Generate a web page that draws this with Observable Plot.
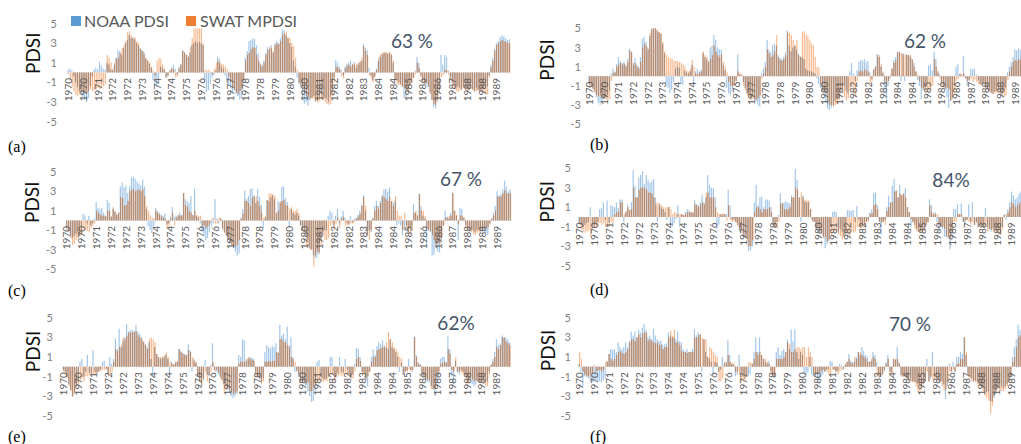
<!DOCTYPE html>
<html><head><meta charset="utf-8">
<script src="https://cdn.jsdelivr.net/npm/d3@7"></script>
<script src="https://cdn.jsdelivr.net/npm/@observablehq/plot@0.6"></script>
<style>
html,body{margin:0;padding:0;background:#fff;}
#page{position:relative;width:1021px;height:444px;overflow:hidden;font-family:Lato,"Open Sans",sans-serif;}
#page svg{position:absolute;left:0;top:0;max-width:none;background:transparent;}
.ov{position:absolute;white-space:nowrap;line-height:1;}
.pct{font-family:Lato,sans-serif;font-size:19px;color:#44546a;transform:translate(-50%,-50%);}
.pl{font-family:"Liberation Serif","DejaVu Serif",serif;font-size:16px;color:#000;transform:translateY(-50%);}
.lg{font-family:Lato,sans-serif;font-size:16px;color:#595959;transform:translateY(-50%);}
.sw{position:absolute;width:10px;height:10px;}
</style></head><body><div id="page"></div>
<script>
// ---- data ----
const startYear = 1970;
const months = d3.range(240);
const tickValues = [5, 3, 1, -1, -3, -5];
const yearLabelMonths = d3.range(0, 240, 8);
const seriesNames = ["NOAA PDSI", "SWAT MPDSI"];
const panelTags = ["(a)", "(b)", "(c)", "(d)", "(e)", "(f)"];
const percentLabels = ["63 %", "62 %", "67 %", "84%", "62%", "70 %"];

const aNOAA = [
0.3,0.4,0.2,-0.4,-1.0,-1.5,-1.9,-2.2,-2.5,-2.8,-3.0,-2.6,
-1.4,-0.4,0.3,0.5,0.3,1.1,0.7,0.4,0.3,1.0,0.8,0.3,
0.2,0.8,1.5,2.3,2.2,1.8,2.5,3.0,3.3,3.8,3.5,3.6,
3.4,3.0,2.8,2.5,2.3,2.2,1.5,1.2,0.9,0.5,-0.8,-1.3,
-1.5,-0.6,0.6,0.5,0.3,-0.5,-0.4,0.2,0.5,0.8,0.4,-0.2,
0.6,0.9,2.3,2.1,1.8,1.7,2.0,2.8,3.0,3.2,3.0,3.1,
3.0,2.8,-1.0,-2.0,-1.8,-1.2,-0.5,-0.3,0.2,1.6,1.4,0.6,
0.4,-0.3,-0.8,-1.2,-1.6,-2.0,-1.8,-2.2,-2.4,-2.8,-2.6,-1.0,
1.5,2.2,3.2,3.3,3.5,3.4,2.8,2.0,1.0,0.8,1.2,2.0,
2.6,2.4,2.8,2.0,3.0,3.2,3.0,3.5,4.4,4.3,3.8,3.5,
3.0,2.6,1.2,0.6,-0.5,-1.2,-1.5,-2.6,-3.2,-3.0,-3.4,-2.8,
-2.6,-2.4,-3.0,-2.8,-2.5,-2.2,-2.4,-2.6,-2.7,-3.0,-2.5,-2.0,
-0.5,1.3,1.0,0.6,0.3,-0.3,0.6,0.9,1.0,1.2,0.8,1.1,
0.5,0.8,1.0,1.2,2.9,2.5,2.3,0.5,-0.3,-0.8,-0.5,0.4,
1.2,1.6,1.8,2.0,2.0,1.9,2.0,1.8,1.0,-0.6,-0.8,-1.0,
-1.2,-1.5,-2.6,-2.5,-1.8,-1.3,-0.8,-0.5,0.2,1.6,1.0,-0.3,
-0.8,-1.0,-1.2,-1.5,-2.0,-2.8,-3.5,-3.7,-3.0,-2.0,1.8,0.8,
1.8,1.6,0.2,-0.5,-1.0,-1.2,-1.5,-1.4,-1.6,-1.8,-1.5,-1.6,
-1.6,-1.8,-1.5,-1.7,-1.9,-1.6,-1.8,-2.0,-1.7,-1.6,-1.5,-1.4,
-0.3,0.8,1.5,2.4,3.0,3.2,3.6,3.8,3.7,3.5,3.3,3.4];
const aSWAT = [
-0.2,-0.8,-1.4,-2.0,-2.3,-2.4,-2.2,-2.0,-1.9,-2.0,-2.1,-1.9,
-1.7,-1.9,-1.8,-1.7,-1.6,-1.7,-1.6,-1.4,-1.2,1.8,1.5,1.0,
0.4,1.0,1.4,1.5,2.0,2.5,2.8,3.2,4.1,4.2,3.8,3.5,
3.6,3.2,3.0,2.4,2.2,1.9,1.4,1.2,1.0,0.6,0.2,-0.3,
1.2,1.5,1.4,0.8,0.4,-0.5,-0.3,0.2,0.4,0.3,-0.5,-0.4,
0.4,0.8,2.2,2.0,1.8,1.6,2.6,3.5,4.5,4.5,4.5,4.5,
4.5,3.0,0.3,0.2,0.3,0.1,-0.2,0.4,1.0,1.2,1.0,0.9,
0.8,0.6,0.3,-0.4,-1.0,-1.5,-1.8,-2.0,-2.2,-1.9,-1.5,-0.8,
1.2,1.8,2.0,2.4,2.6,2.5,1.8,1.2,0.8,0.6,1.0,1.8,
2.3,2.6,2.5,2.2,2.8,3.0,2.9,3.2,3.8,4.0,4.2,3.6,
3.5,3.0,2.7,1.5,0.3,-1.0,-1.2,-1.5,-2.0,-2.4,-2.5,-2.7,
-2.6,-2.8,-2.9,-3.1,-2.9,-2.7,-2.8,-3.0,-3.2,-3.3,-3.2,-2.4,
-1.0,0.6,0.5,0.3,-0.4,-0.6,0.4,0.7,0.8,0.6,0.9,0.8,
0.9,1.0,1.2,1.5,2.7,2.2,1.8,-0.3,-0.6,-1.0,-0.4,0.3,
1.5,1.9,2.0,2.1,2.1,2.0,2.1,1.9,1.2,-0.8,-1.2,-1.3,
-1.3,-1.4,-1.6,-1.8,-2.0,-1.4,-1.0,-0.6,-0.2,1.0,0.5,-0.5,
-1.0,-1.2,-1.1,-1.4,-2.2,-2.8,-3.2,-3.3,-2.8,-1.8,-0.5,-0.3,
0.3,0.2,-0.3,-0.8,-1.3,-1.6,-1.9,-2.0,-1.8,-1.7,-1.6,-1.8,
-1.9,-1.8,-1.7,-1.8,-2.0,-1.9,-1.8,-1.9,-2.0,-2.1,-2.2,-2.3,
-0.5,0.5,1.2,2.2,2.8,3.0,3.2,3.3,3.2,3.1,3.0,3.0];

const bNOAA = [
-0.8,-1.0,-1.3,-1.6,-2.2,-2.8,-3.0,-2.7,-2.4,-2.2,-2.0,-1.5,
0.3,0.8,0.5,1.3,2.0,1.6,1.4,1.5,1.2,1.8,2.9,2.6,
1.4,1.9,1.2,1.0,2.0,3.9,4.1,3.6,3.0,4.2,4.9,5.0,
5.0,4.8,4.6,4.4,3.4,2.4,-0.8,-1.2,-1.8,-1.4,-0.6,0.8,
1.0,0.9,-0.8,-0.9,0.6,0.4,0.3,0.5,1.2,-0.8,0.5,0.8,
0.5,0.7,2.4,2.0,1.8,1.5,3.0,3.2,4.3,3.8,3.0,2.8,
2.8,1.2,0.6,-1.2,-1.8,-2.0,-1.5,-1.0,-0.5,2.3,0.2,0.1,
-0.6,-1.2,-1.8,-2.0,-2.3,-2.1,-2.4,-2.6,-3.0,-3.2,0.3,0.8,
1.5,3.8,2.8,2.5,3.2,3.4,3.2,2.2,1.9,1.8,2.0,2.5,
4.8,3.2,2.6,3.0,3.2,2.8,2.4,2.1,2.0,1.8,0.8,0.6,
0.6,0.5,0.4,0.3,-0.2,-0.8,-1.2,-1.6,-1.8,-2.8,-3.4,-3.5,
-3.3,-3.0,-2.6,-2.4,-2.2,-1.6,-1.3,-1.0,-1.5,-1.8,0.5,1.4,
0.3,-0.5,0.6,1.5,1.7,1.6,1.8,1.5,1.6,0.4,-0.3,0.7,
1.0,2.3,2.0,1.0,0.3,-1.2,-2.4,-1.0,-0.3,0.8,1.7,2.0,
2.5,2.6,-0.5,2.4,-0.5,2.3,2.2,2.0,1.8,1.4,0.5,-0.4,
-1.0,-2.4,-1.5,-1.2,-0.8,1.1,1.2,0.6,2.5,1.8,0.4,0.2,
-0.6,-1.0,-1.3,-2.2,-3.3,-2.6,-2.4,-1.0,1.0,1.3,0.2,0.1,
2.1,-0.2,-1.0,-0.4,0.8,0.7,0.8,0.2,-0.4,-0.8,-0.9,-0.7,
-1.2,-1.4,-1.5,-1.7,-1.8,-1.6,-1.5,-1.4,-1.6,-1.8,-1.5,-1.2,
0.4,1.0,1.5,2.0,2.8,2.7,2.9,2.8,2.9,2.8,2.9,3.0];
const bSWAT = [
-1.2,-1.0,-1.4,-1.8,-2.0,-2.1,-2.0,-2.2,-2.3,-2.5,-2.5,-2.4,
-0.5,0.3,0.4,1.0,1.2,1.4,1.2,1.3,1.0,1.5,2.7,2.5,
1.2,1.4,1.0,0.8,1.5,3.0,3.4,3.2,2.8,4.5,5.0,5.0,
5.0,4.8,4.6,4.5,3.6,2.6,2.2,2.0,1.9,1.8,1.6,1.6,
1.6,1.5,1.4,1.2,1.0,0.6,0.5,0.8,1.7,1.0,0.3,0.2,
0.4,0.5,2.6,2.2,2.0,1.6,1.8,2.2,3.2,2.6,2.2,2.0,
2.3,1.5,1.0,0.4,-0.6,-1.0,-1.1,-0.9,-0.5,0.5,0.3,0.2,
-1.0,-1.5,-2.0,-2.2,-2.5,-2.3,-2.4,-2.5,-2.3,-2.0,-0.3,0.3,
1.0,2.8,2.4,2.0,2.2,2.6,4.3,2.0,1.7,1.6,1.8,2.2,
4.6,4.5,4.3,3.8,3.2,3.8,2.2,2.0,4.6,4.7,4.4,4.2,
3.8,3.4,3.2,2.0,1.0,0.9,-0.8,-1.5,-1.6,-1.8,-2.6,-3.0,
-3.0,-3.2,-3.0,-2.8,-2.5,-1.5,-1.8,-2.2,-2.5,-2.3,-1.5,-1.0,
-1.8,-2.1,-0.5,0.5,0.6,0.5,0.7,0.6,0.5,-0.8,-0.5,0.7,
1.0,2.2,2.2,1.3,0.5,-0.5,-0.8,-0.5,0.2,0.8,1.4,1.6,
2.5,2.5,2.4,2.3,2.3,2.2,2.2,2.2,1.7,1.0,0.5,0.2,
-0.5,-1.2,-1.3,-1.5,-1.6,-1.5,-1.4,-1.0,1.8,1.0,0.6,-0.3,
-1.0,-1.2,-1.3,-1.2,-1.4,-2.5,-2.2,-1.5,-0.5,-0.3,0.3,0.2,
0.3,-0.3,-0.5,-0.5,-0.3,-0.6,-0.4,-0.6,-0.8,-0.9,-1.0,-0.8,
-1.3,-1.5,-1.6,-1.8,-1.9,-1.8,-1.7,-1.6,-1.9,-2.0,-2.1,-2.0,
-0.4,0.5,1.0,1.5,1.7,1.6,1.8,1.7,1.9,2.0,2.1,2.2];

const cNOAA = [
-0.8,-1.0,-1.5,-1.8,-1.6,-1.4,-1.2,-1.6,-1.5,0.7,0.5,-0.3,
0.5,-0.5,-0.3,0.2,1.9,1.3,1.2,1.3,0.8,0.5,2.1,1.8,
0.4,1.2,0.9,0.6,0.8,3.5,3.9,3.4,3.6,2.8,3.5,4.4,
4.5,4.3,4.0,3.8,3.6,4.2,3.5,1.2,-0.6,-1.0,-1.3,-0.8,
1.3,1.0,0.8,0.6,0.5,0.7,-0.4,-0.3,0.4,1.4,0.4,0.5,
0.5,0.8,0.6,2.8,2.2,2.0,1.8,2.5,0.6,3.3,0.5,0.3,
-0.3,-1.0,-1.5,-2.0,-1.8,-1.2,-0.6,-0.3,2.2,0.2,-0.3,0.2,
-0.8,-1.2,-1.5,-2.0,-2.4,-2.6,-2.8,-3.2,-3.6,-3.4,0.3,1.2,
3.1,2.2,2.5,3.2,3.3,2.6,1.8,3.2,2.4,1.6,-0.8,0.3,
2.1,2.0,2.4,2.6,2.2,0.8,2.0,1.8,3.5,3.5,2.3,1.9,
-0.8,1.2,0.8,0.6,0.8,0.5,-0.5,-1.0,-1.1,-1.5,-2.0,-2.8,
-3.0,-3.6,-3.9,-3.8,-3.5,-2.0,-1.2,-1.0,-1.0,0.5,1.0,0.8,
-0.5,0.5,1.2,-0.3,0.4,1.0,0.3,-0.2,-0.4,0.5,-0.2,0.2,
0.3,0.6,1.0,1.6,2.6,1.0,-1.5,-1.0,-1.2,0.3,1.5,2.0,
1.5,2.0,2.6,3.2,3.3,3.0,3.4,2.0,1.8,2.0,-0.5,-0.3,
-0.5,-1.5,-1.0,-0.5,-1.2,-0.8,-0.6,1.7,0.8,0.5,2.8,1.5,
0.5,0.2,-2.5,-1.0,-1.2,-3.6,-3.5,-2.5,-3.2,-3.3,-2.0,-0.5,
1.0,0.4,0.2,0.8,2.9,1.0,0.5,-2.0,1.3,1.2,0.3,-0.5,
-0.8,-1.0,-0.9,-1.0,-1.2,-1.0,-0.9,-1.1,-1.2,-1.0,-1.3,-1.5,
-0.3,0.2,0.8,1.5,3.0,2.6,2.7,3.2,4.1,3.5,3.0,3.2];
const cSWAT = [
-1.0,-1.2,-1.8,-2.5,-2.4,-2.0,-1.8,-1.6,-1.4,-0.8,-1.0,-1.1,
-1.2,-0.8,-0.5,-0.3,1.0,0.8,0.6,0.5,0.5,0.4,1.0,1.0,
0.4,1.4,1.0,0.6,0.8,2.4,2.3,1.5,1.6,2.0,3.0,3.2,
3.2,3.0,3.1,3.2,3.0,3.2,2.5,1.5,1.0,0.5,0.3,0.2,
1.0,0.8,0.6,0.4,0.3,0.2,-0.8,-0.8,0.2,0.8,-0.5,0.3,
0.6,0.5,0.5,2.8,1.6,1.4,1.0,0.8,0.5,1.0,0.5,0.5,
0.5,-0.5,-0.5,-0.8,-0.6,-0.3,0.2,0.3,-0.3,-0.3,0.3,0.2,
-1.0,-1.3,-1.6,-2.0,-2.3,-2.5,-2.6,-2.7,-2.5,-2.0,0.2,0.7,
2.0,2.0,1.8,1.5,2.3,2.5,2.5,2.0,1.5,0.8,0.3,0.5,
2.1,2.8,2.8,2.7,2.5,0.8,1.0,2.0,2.0,2.1,1.6,1.5,
1.2,1.4,1.0,1.0,1.2,0.8,-0.5,-1.0,-1.2,-2.6,-2.7,-3.0,
-3.0,-4.7,-3.6,-3.2,-3.3,-2.5,-1.5,-2.0,-2.0,-1.8,-0.5,-0.3,
-1.0,-0.4,0.3,-0.8,0.2,0.4,-0.5,-0.5,-0.4,-0.3,-0.3,-0.2,
0.2,0.4,0.7,1.5,2.4,1.5,-1.6,-2.0,-1.0,0.2,1.0,1.5,
1.2,1.8,2.5,2.4,2.2,2.0,2.4,2.0,1.5,2.5,1.0,0.5,
0.5,-1.0,0.8,-0.8,-1.3,-1.5,-1.0,0.8,1.0,0.6,2.7,1.0,
1.0,0.5,-0.8,-1.0,-1.1,-1.5,-2.0,-2.5,-2.2,-2.4,-1.8,-0.5,
0.3,0.3,0.5,0.5,2.8,1.0,0.6,-0.4,0.5,0.5,0.3,-0.8,
-1.0,-1.1,-1.2,-1.4,-1.5,-1.3,-1.2,-1.1,-1.0,-0.9,-0.8,-0.7,
-0.3,0.2,0.5,1.0,2.5,2.4,2.5,2.8,3.1,2.8,2.8,2.8];

const dNOAA = [
-0.6,-0.8,-1.0,-0.8,-0.6,-0.5,1.0,-0.9,-1.0,-0.8,-0.5,0.8,
0.9,1.5,-0.3,1.7,-0.6,1.2,1.1,1.0,1.5,0.9,1.8,1.8,
-0.5,0.5,1.3,0.7,1.5,4.8,3.2,2.0,4.0,4.3,4.7,3.4,
4.3,3.8,3.5,3.7,3.9,2.0,-0.5,1.3,1.0,0.8,0.5,-0.3,
1.0,-0.8,-1.0,-0.6,-0.2,1.2,-1.0,0.3,0.2,0.5,0.8,0.7,
0.5,0.4,1.7,1.3,1.2,1.5,2.3,1.5,2.0,4.3,3.3,3.0,
3.0,2.0,-1.2,-0.8,0.3,0.2,0.3,0.3,2.8,1.2,-0.3,-0.2,
-0.5,-0.8,-1.5,-1.2,-1.8,-2.0,-2.2,-3.5,-3.4,-3.0,1.5,3.3,
1.2,2.0,2.1,1.0,1.8,1.8,1.7,1.0,-0.8,-1.0,-0.5,0.2,
2.4,1.4,1.5,1.6,1.5,1.4,2.2,2.0,4.9,3.8,2.0,-0.5,
2.2,1.6,1.5,1.5,0.8,-0.3,-0.5,-1.2,-1.5,-1.6,-1.4,-2.0,
-3.2,-2.8,-2.5,-1.0,0.5,0.6,0.5,-1.5,-1.2,-1.5,-2.0,-1.8,
0.7,0.7,0.6,0.7,-0.5,1.1,-0.3,-1.0,-1.0,-0.8,-0.5,-0.3,
0.5,0.8,2.4,2.5,1.2,-0.5,-1.8,-0.5,-0.3,1.0,2.2,1.5,
3.2,3.9,2.7,2.0,3.3,2.2,2.4,3.0,1.0,0.5,-1.0,-0.5,
-0.8,-1.2,-1.5,-1.4,-1.5,-1.3,-0.8,-0.5,1.8,1.2,0.3,0.5,
-0.5,-1.5,-1.0,-1.2,-2.0,-2.1,-2.2,-3.3,-2.0,0.8,0.8,1.3,
0.3,1.4,-0.5,-0.8,-0.3,1.3,-0.5,1.5,-0.8,-0.5,-1.0,-0.8,
-0.9,-1.0,0.9,-1.0,-1.2,-1.5,-1.2,-1.3,-1.5,-1.2,-1.8,-1.0,
0.3,-0.3,0.8,1.5,2.6,2.2,1.8,2.0,2.4,2.6,2.8,3.0];
const dSWAT = [
-0.8,-1.3,-1.5,-1.6,-1.5,-1.4,-2.0,-1.2,-1.0,-1.1,-0.9,-0.6,
-0.8,-0.6,-1.0,-0.8,-1.0,-0.5,-0.6,0.3,0.5,0.6,1.5,1.5,
0.3,0.6,1.0,0.7,0.8,3.0,2.0,2.0,2.8,3.0,3.0,3.0,
2.8,2.5,2.5,2.4,2.0,1.3,1.5,1.4,1.2,1.0,1.0,1.0,
1.0,0.8,0.3,0.5,0.4,0.3,0.3,0.3,0.2,0.3,0.5,0.5,
0.5,0.5,1.3,1.2,1.0,1.3,1.5,1.3,2.5,2.5,2.0,2.0,
2.0,1.0,0.5,0.3,0.3,0.4,0.3,-0.4,1.2,-0.3,-0.5,-0.4,
-0.6,-1.0,-1.3,-1.6,-2.0,-2.1,-2.5,-3.0,-3.0,-2.4,0.5,1.0,
1.0,0.8,0.5,0.8,0.8,0.8,1.0,0.5,-0.8,-1.0,-1.2,-0.5,
1.4,1.4,0.8,0.8,0.8,1.0,2.0,2.0,3.0,2.8,2.0,2.5,
2.0,1.8,1.7,1.7,0.8,-0.5,-0.5,-1.2,-1.0,-1.5,-1.8,-2.2,
-2.0,-2.5,-2.3,-1.8,-1.5,-1.5,-1.5,-1.8,-2.0,-2.3,-2.0,-1.6,
-1.8,-2.0,-1.5,-1.6,-1.5,-1.0,-1.0,-1.2,-1.0,-1.0,-0.5,-0.5,
0.3,0.4,1.2,1.3,0.8,-0.5,-0.6,-0.5,-0.8,0.6,1.0,1.5,
1.5,2.6,2.7,2.0,2.4,2.2,2.4,2.0,1.0,0.5,-0.2,-0.5,
-1.2,-1.5,-1.5,-1.6,-1.5,-1.4,-0.8,-0.6,1.2,0.5,0.4,0.3,
0.3,-0.8,-1.0,-1.0,-1.2,-2.0,-2.0,-2.2,-1.5,-0.5,-0.5,0.3,
0.3,0.3,-0.5,-0.4,-0.3,-0.5,-0.8,-0.5,-0.8,-0.6,-1.0,-0.9,
-1.0,-1.1,-1.0,-1.5,-1.2,-1.3,-1.5,-1.4,-1.6,-1.8,-1.8,-1.2,
0.2,0.3,0.5,1.0,1.5,1.3,1.0,1.2,1.4,1.5,1.6,1.7];

const eNOAA = [
-0.3,-0.5,-1.0,-1.8,-2.4,-3.0,-2.8,-2.0,-1.6,0.5,0.8,-1.0,
-0.5,1.2,-0.6,-0.7,1.7,-0.5,-0.6,-0.5,-0.3,0.5,0.6,-0.2,
-0.8,1.0,0.3,0.8,2.9,1.8,3.9,2.0,2.6,3.0,4.4,3.6,
3.7,3.8,3.6,4.3,3.6,3.4,3.0,2.6,2.3,2.0,2.5,0.8,
-1.0,2.0,1.3,1.0,0.8,0.9,1.0,1.2,0.8,-0.8,0.5,0.3,
0.4,0.5,1.8,1.6,1.4,1.3,1.2,2.3,1.7,-0.5,0.8,0.4,
-1.0,-1.5,-2.0,-1.4,0.7,-0.8,-1.0,0.2,2.4,-0.3,-0.5,-0.8,
-1.0,-1.3,-1.8,-2.0,-2.3,-2.6,-3.0,-3.2,-3.0,-2.8,1.2,1.0,
2.8,2.7,0.6,0.8,1.0,0.9,0.8,-0.6,-1.0,-1.2,-1.5,-1.2,
1.5,2.2,2.0,1.9,2.1,2.0,2.4,1.5,4.3,3.2,3.4,2.8,
4.1,2.2,3.0,1.0,-0.5,-0.5,-1.0,-1.5,-1.6,-1.5,-2.0,-2.5,
-3.0,-3.6,-3.5,-2.5,0.5,0.7,-1.0,-1.2,-1.3,-1.2,-1.0,1.0,
1.0,-0.8,-0.6,-0.7,1.0,-0.5,-0.6,0.8,-0.3,-0.8,-1.0,-0.8,
0.3,1.9,1.8,1.0,-0.5,-0.6,-1.2,-2.0,-0.5,1.0,1.8,1.2,
2.1,2.5,2.3,2.7,2.2,2.0,1.8,2.8,2.0,1.8,1.5,1.0,
-0.5,0.4,-0.8,-0.6,-0.4,0.8,-0.3,-0.5,3.1,1.2,0.5,0.3,
-1.0,-1.0,-1.3,-1.5,-1.6,-2.0,-2.3,-3.0,-2.0,-1.0,0.8,1.0,
1.0,0.5,3.1,1.8,-1.0,-1.8,0.6,-0.5,-0.8,-0.3,-0.5,-0.8,
-1.2,-1.5,-1.4,-1.8,-2.0,-1.8,-1.5,-1.6,-1.5,-1.4,-1.6,-1.5,
-0.5,0.2,0.8,1.5,2.8,2.2,2.4,3.2,3.0,3.0,2.8,2.5];
const eSWAT = [
-0.5,-0.8,-1.2,-2.0,-2.5,-3.1,-2.6,-2.0,-1.8,-1.4,-1.2,-1.5,
-1.0,-1.0,-0.8,-0.8,-0.8,-0.8,-0.6,-0.5,-0.4,-0.3,-0.3,-0.3,
-1.0,-0.8,-0.5,0.5,1.8,1.6,2.0,2.2,3.0,2.8,3.2,3.5,
3.5,3.5,3.6,3.6,3.2,3.0,2.8,2.5,2.2,1.8,2.8,3.0,
2.8,2.5,1.3,1.0,1.0,1.0,1.2,1.5,1.0,0.5,0.3,0.2,
0.5,0.6,1.8,1.5,1.3,1.2,1.2,1.7,1.5,1.0,0.6,0.5,
-1.0,-1.6,-2.0,-1.2,-0.5,-1.5,-0.8,-0.5,0.5,-0.5,-0.3,-0.6,
-1.2,-1.5,-2.5,-2.4,-2.2,-2.4,-2.6,-2.8,-2.7,-2.5,0.3,0.5,
0.5,0.5,0.8,1.0,0.8,0.7,0.6,-1.0,-1.1,-1.3,-1.8,-1.5,
0.5,0.5,0.6,0.5,0.6,0.6,1.5,1.4,2.8,2.8,2.5,2.5,
2.2,2.0,1.0,0.8,0.5,-0.4,-0.8,-1.5,-1.5,-1.6,-1.8,-1.6,
-2.5,-2.5,-2.0,-1.8,-1.5,-1.5,-1.5,-1.6,-1.4,-1.5,-1.0,-0.8,
-0.8,-1.5,-1.0,-1.0,-0.8,-1.0,-0.8,-0.6,-0.8,-1.0,-1.2,-1.2,
-0.5,0.8,1.0,0.6,-0.8,-0.8,-1.3,-1.0,-0.5,0.5,1.0,1.0,
1.7,1.8,1.9,2.0,2.0,2.5,3.6,2.8,2.5,2.0,1.8,1.5,
1.0,0.8,-0.8,-0.5,-0.5,-0.3,-0.5,-0.3,3.0,1.0,0.3,0.2,
-0.8,-1.0,-1.3,-1.3,-1.4,-2.3,-2.3,-2.2,-1.0,-0.5,0.3,0.4,
0.5,0.4,1.8,1.3,-0.3,-0.5,1.0,-0.5,-0.5,-0.6,-0.8,-1.0,
-1.8,-1.6,-1.2,-1.3,-1.5,-1.4,-1.5,-1.6,-1.5,-1.8,-2.0,-2.0,
-0.8,0.2,0.5,1.0,2.0,1.8,2.2,3.0,3.0,2.6,2.4,2.2];

const fNOAA = [
0.3,-0.5,-2.0,-1.0,-1.0,-1.2,-1.5,-1.6,-1.5,-1.4,-1.5,-1.5,
-1.6,-1.4,-1.2,0.5,1.3,1.8,1.7,1.8,1.5,2.5,2.0,1.8,
2.0,2.5,2.0,2.6,3.6,3.2,3.6,3.0,3.8,3.5,4.0,4.4,
3.8,3.0,3.2,2.8,3.9,3.2,2.8,2.6,2.7,2.2,2.3,2.4,
3.5,3.2,3.0,3.0,2.8,3.6,2.6,2.5,1.8,1.6,1.8,1.5,
1.5,1.8,3.8,3.2,3.5,3.3,-0.5,2.8,1.5,1.0,0.8,0.5,
-0.8,0.5,0.4,-0.5,-0.3,1.0,0.3,0.5,2.7,1.2,0.3,0.2,
-1.0,-0.8,1.2,-0.5,-1.0,-1.2,-1.0,-1.0,-0.8,0.3,1.5,3.0,
1.5,3.0,1.2,0.8,0.5,0.3,0.6,-0.5,-0.8,-1.0,1.5,2.0,
1.2,1.6,1.8,1.5,2.8,1.8,3.8,2.6,3.8,1.5,0.8,1.5,
1.2,-0.8,-0.8,-0.6,1.0,-0.8,-1.0,-1.0,-1.2,-1.5,-1.0,-0.8,
-0.5,-0.3,-0.2,0.6,0.5,-0.3,-0.5,-0.4,0.3,0.2,-0.3,0.2,
0.5,1.3,0.6,0.5,0.5,1.0,1.5,1.2,2.0,1.6,1.2,1.0,
0.5,0.6,1.5,1.2,0.5,-1.0,-1.0,-0.8,-0.5,0.5,1.2,-0.5,
-0.6,0.8,0.7,2.0,0.5,-0.8,-1.0,-1.0,-1.1,-1.3,-1.2,-1.5,
-1.5,-1.6,-1.8,-1.8,-2.0,-1.6,-1.5,0.8,-1.5,-1.2,1.5,-1.0,
-1.2,-1.3,-1.5,-1.5,-1.8,-3.3,-2.0,0.3,-0.5,0.5,-0.5,1.0,
1.0,1.5,1.3,3.0,1.2,-0.8,-1.0,-1.2,-1.5,-1.4,-1.5,-1.8,
-2.0,-2.2,-2.5,-2.6,-2.5,-3.5,-3.6,-3.2,-2.8,-2.2,-2.0,-2.0,
-2.2,-2.0,-1.8,-1.5,-1.0,1.0,2.0,2.8,4.3,3.8,3.5,3.2];
const fSWAT = [
1.5,0.8,-0.5,-0.8,-1.0,-1.0,-0.8,-0.7,0.2,-0.5,-0.4,-0.3,
-0.5,-0.3,0.5,0.6,1.3,0.8,0.6,0.8,1.2,1.5,1.6,1.4,
1.3,1.5,1.8,2.5,2.8,2.8,2.6,3.0,3.3,3.0,3.4,3.5,
3.5,2.7,2.8,2.6,2.5,2.4,2.5,2.2,2.3,1.8,2.0,2.0,
3.0,3.7,3.2,3.8,2.5,2.5,2.2,1.6,1.5,1.5,1.4,1.5,
1.5,1.5,3.0,3.0,3.2,3.3,3.0,2.8,2.8,1.0,2.0,1.8,
1.5,1.2,1.0,-1.5,-1.5,-1.2,0.5,0.4,1.2,0.5,0.4,0.3,
-0.5,-0.5,-0.8,-1.5,-1.5,-1.4,-1.0,0.5,0.4,0.3,0.8,1.5,
1.2,1.5,1.2,0.8,0.8,0.5,0.3,-0.8,-1.0,-1.0,0.8,0.8,
0.8,0.8,1.0,1.5,2.5,2.3,1.5,1.5,1.8,2.0,2.0,1.8,
2.0,2.0,1.0,2.0,1.5,1.0,-0.8,-0.8,-0.8,-0.6,-0.5,-0.3,
-0.5,-0.5,-0.8,-0.8,-0.3,-0.3,-0.5,-0.8,-0.5,-0.3,-0.2,0.3,
0.5,0.8,0.4,0.3,1.0,0.8,1.5,1.5,1.2,1.0,0.8,0.5,
0.5,0.8,1.0,0.8,-1.0,-1.0,-1.0,-0.8,-0.3,0.3,0.8,-0.8,
-0.8,0.8,0.8,0.8,0.3,-1.0,-1.0,-1.0,-1.2,-1.5,-1.5,-1.6,
-1.6,-2.0,-2.6,-2.5,-2.2,-1.8,-1.5,-0.5,-1.5,-1.0,-1.3,-1.3,
-1.5,-1.5,-1.6,-2.0,-2.5,-2.3,-1.5,-0.5,-0.5,-0.3,-0.5,0.3,
0.3,0.8,0.8,3.0,1.5,-1.0,-1.2,-1.5,-1.5,-1.6,-1.8,-2.0,
-2.0,-2.5,-3.0,-3.2,-3.5,-4.8,-4.0,-3.0,-2.5,-2.3,-2.5,-2.5,
-2.5,-2.3,-2.0,-1.5,-1.0,0.5,1.0,2.0,3.0,3.2,3.0,2.8];

// ---- styling / layout (not data) ----
const BLUE = "#a4c7e9", ORANGE = "#f5bb92", BROWN = "#9c7c69";
const panels = [
  {noaa: aNOAA, swat: aSWAT, x0: 67.4, mw: 1.846, zero: 72.5, unit: 9.8, tickDx: -11, labDx: -34, labDy: 1},
  {noaa: bNOAA, swat: bSWAT, x0: 588.4, mw: 1.835, zero: 76.2, unit: 9.57, tickDx: -8, labDx: -41, labDy: 4},
  {noaa: cNOAA, swat: cSWAT, x0: 65.8, mw: 1.856, zero: 220.5, unit: 9.73, tickDx: -10, labDx: -33, labDy: 2},
  {noaa: dNOAA, swat: dSWAT, x0: 578.4, mw: 1.864, zero: 217, unit: 9.77, tickDx: -8, labDx: -31, labDy: 5},
  {noaa: eNOAA, swat: eSWAT, x0: 62.4, mw: 1.868, zero: 366.7, unit: 9.77, tickDx: -10, labDx: -29, labDy: 5},
  {noaa: fNOAA, swat: fSWAT, x0: 578.4, mw: 1.86, zero: 366.7, unit: 9.77, tickDx: -8, labDx: -30, labDy: 4}
];
const W = 1040, H = 444;
const page = document.getElementById("page");

function overlap(a, b) {
  if (a > 0 && b > 0) return Math.min(a, b);
  if (a < 0 && b < 0) return Math.max(a, b);
  return 0;
}

for (const p of panels) {
  const rows = months.map(m => ({m, n: p.noaa[m], s: p.swat[m], o: overlap(p.noaa[m], p.swat[m])}));
  const xEnd = p.x0 + 240 * p.mw;
  const bw = p.mw * 0.9;        // band width
  const off = bw * 0.28;        // horizontal offset between the two series
  const svg = Plot.plot({
    width: W, height: H,
    marginLeft: p.x0, marginRight: W - xEnd,
    marginTop: p.zero - 5 * p.unit, marginBottom: H - (p.zero + 5 * p.unit),
    style: {background: "transparent", maxWidth: "none", overflow: "visible"},
    x: {type: "band", domain: months, paddingInner: 0.1, paddingOuter: 0.05, axis: null},
    y: {domain: [-5, 5], axis: null},
    marks: [
      Plot.barY(rows, {x: "m", y1: 0, y2: "n", fill: BLUE, insetRight: off}),
      Plot.barY(rows, {x: "m", y1: 0, y2: "s", fill: ORANGE, insetLeft: off}),
      Plot.barY(rows, {x: "m", y1: 0, y2: "o", fill: BROWN, insetLeft: off, insetRight: off}),
      Plot.text(tickValues, {frameAnchor: "left", y: d => d, text: d => String(d), textAnchor: "end", dx: p.tickDx, fontSize: 11, fill: "#7f7f7f", fontFamily: "Lato"}),
      Plot.text(yearLabelMonths, {x: d => d, y: 0, text: d => String(startYear + Math.floor(d / 12)), rotate: -90, textAnchor: "end", dy: 5, fontSize: 10, fill: "#595959", fontFamily: "Lato"}),
      Plot.text(["PDSI"], {frameAnchor: "left", text: d => d, dx: p.labDx, dy: p.labDy, rotate: -90, fontSize: 19, fill: "#111", fontFamily: "Lato"})
    ]
  });
  page.appendChild(svg);
}

// overlays: legend, percentages, panel tags
function addDiv(cls, text, left, top) {
  const d = document.createElement("div");
  d.className = "ov " + cls;
  d.textContent = text;
  d.style.left = left + "px"; d.style.top = top + "px";
  page.appendChild(d);
  return d;
}
function addSwatch(left, top, color) {
  const s = document.createElement("div");
  s.className = "sw";
  Object.assign(s.style, {left: left + "px", top: top + "px", background: color});
  page.appendChild(s);
}
addSwatch(71, 16, "#5b9bd5");
addDiv("lg", seriesNames[0], 84, 21);
addSwatch(186, 16, "#ed7d31");
addDiv("lg", seriesNames[1], 200, 21);

const pctPos = [[412, 40], [925, 40], [461, 178], [951, 179], [456, 322], [910, 323]];
percentLabels.forEach((t, i) => addDiv("pct", t, pctPos[i][0], pctPos[i][1]));
const tagPos = [[8, 147], [590, 145], [8, 291], [590, 290], [8, 437], [590, 437]];
panelTags.forEach((t, i) => addDiv("pl", t, tagPos[i][0], tagPos[i][1]));
</script>
</body></html>
